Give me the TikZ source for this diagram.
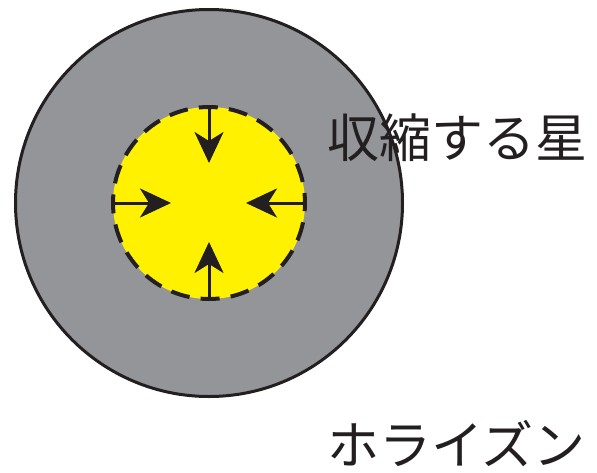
\documentclass[tikz,border=0pt]{standalone}
\usepackage{fontspec}
\newfontfamily\jpfont{Noto Sans CJK JP}
\usetikzlibrary{arrows.meta}
\definecolor{horizongray}{RGB}{147,149,152}
\definecolor{staryellow}{RGB}{255,241,0}
\definecolor{inkblack}{RGB}{35,31,32}

\begin{document}
\begin{tikzpicture}[
        x=1pt,y=-1pt,
        >={Stealth[length=31pt,width=29pt,inset=9pt]},
        horizon/.style={circle,draw=inkblack,line width=3pt,fill=horizongray,minimum size=387pt,inner sep=0pt},
        star/.style={circle,draw=inkblack,line width=4pt,dash pattern=on 19pt off 11.2pt,dash phase=9pt,fill=staryellow,minimum size=192pt,inner sep=0pt,outer sep=0pt},
        jplabel/.style={anchor=west,inner sep=0pt,text=inkblack,font=\jpfont\fontsize{52}{60}\selectfont},
        every edge/.style={draw=inkblack,line width=3pt},
    ]
    \useasboundingbox (0,0) rectangle (597,472);
    \coordinate (tipN) at (209,163);
    \coordinate (tipW) at (171,203);
    \coordinate (tipE) at (246,203);
    \coordinate (tipS) at (209,242);
    \node[horizon] (Horizon) at (209,203) {};
    \node[star] (Star) at (209,203) {}
                edge [->] (tipN)
                edge [->] (tipW)
                edge [->] (tipE)
                edge [->] (tipS);
    \node[jplabel] (StarLabel) at (327,138) {収縮する星};
    \node[jplabel] (HorizonLabel) at (327,444) {ホライズン};
\end{tikzpicture}
\end{document}
